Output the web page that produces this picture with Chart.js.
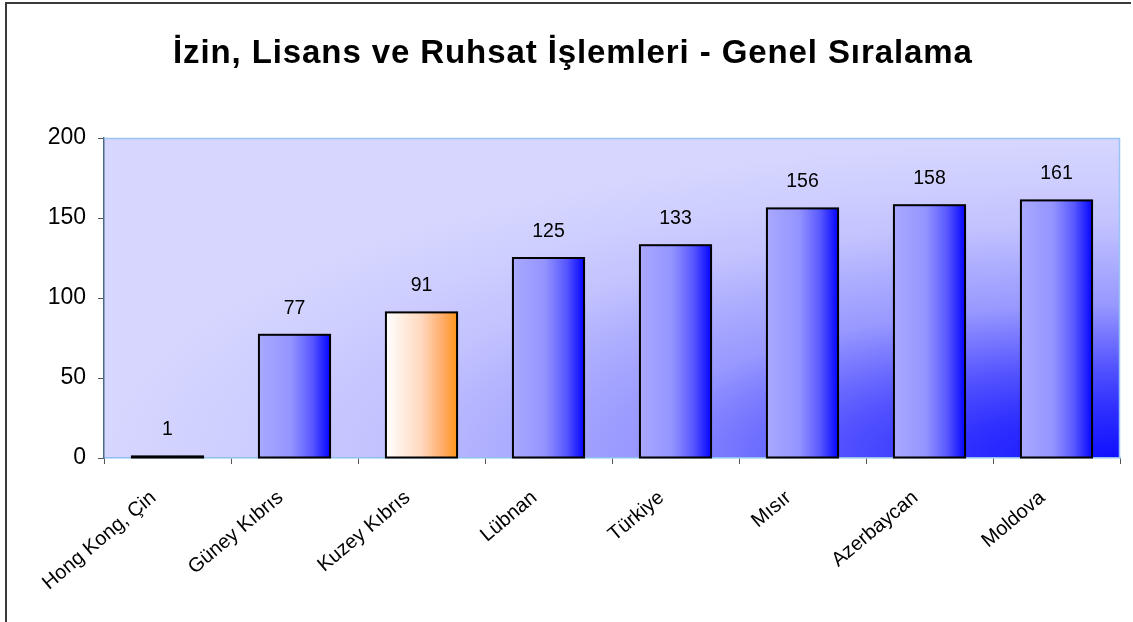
<!DOCTYPE html>
<html>
<head>
<meta charset="utf-8">
<script src="https://cdn.jsdelivr.net/npm/chart.js@4.4.0/dist/chart.umd.min.js"></script>
<style>
    html, body { margin: 0; padding: 0; background: #fff; }
    #wrap { width: 1133px; height: 622px; }
</style>
</head>
<body>
<div id="wrap"><canvas id="chart" width="1133" height="622"></canvas></div>
<script>
(function () {

    "use strict";

    // Datos
    var categories = ['Hong Kong, Çin', 'Güney Kıbrıs', 'Kuzey Kıbrıs', 'Lübnan', 'Türkiye', 'Mısır', 'Azerbaycan', 'Moldova'];
    var values = [1, 77, 91, 125, 133, 156, 158, 161];
    var yTicks = [0, 50, 100, 150, 200];
    var highlighted = ['Kuzey Kıbrıs'];
    var titleText = 'İzin, Lisans ve Ruhsat İşlemleri - Genel Sıralama';

    var FONT = "'Liberation Sans', Arial, sans-serif";
    var BAR_PCT = 0.56;

    /**
     * Gradiente horizontal para cada barra segun su posicion en la escala x
     */
    function barGradient(context) {
        var chart = context.chart;
        var area = chart.chartArea;
        if (!area || !chart.scales.x) {
            return '#9090ff';
        }
        var x = chart.scales.x;
        var center = x.getPixelForValue(context.dataIndex);
        var w = (x.width / categories.length) * BAR_PCT;
        var g = chart.ctx.createLinearGradient(center - w / 2, 0, center + w / 2, 0);
        if (highlighted.indexOf(categories[context.dataIndex]) !== -1) {
            g.addColorStop(0, '#ffffff');
            g.addColorStop(0.5, '#ffd8bd');
            g.addColorStop(0.8, '#ffac68');
            g.addColorStop(1, '#ff951a');
        } else {
            g.addColorStop(0, '#a9a9ff');
            g.addColorStop(0.45, '#9494ff');
            g.addColorStop(0.75, '#5858ff');
            g.addColorStop(1, '#0505ff');
        }
        return g;
    }

    // Fondo, marco y titulo
    var decorations = {
        id: 'decorations',
        beforeDraw: function (chart) {
            var ctx = chart.ctx;
            var a = chart.chartArea;
            ctx.save();
            // marco exterior
            ctx.strokeStyle = '#3a3a3a';
            ctx.lineWidth = 2;
            ctx.beginPath();
            ctx.moveTo(6, 622);
            ctx.lineTo(6, 3);
            ctx.lineTo(1131, 3);
            ctx.stroke();

            // fondo del area de trazado: degradado desde la esquina inferior derecha
            var rx = a.right - a.left;
            var ry = a.bottom - a.top;
            ctx.beginPath();
            ctx.rect(a.left, a.top, rx, ry);
            ctx.clip();
            ctx.translate(a.right, a.bottom);
            ctx.scale(1, ry / rx);
            var g = ctx.createRadialGradient(0, 0, 0, 0, 0, rx);
            g.addColorStop(0, '#0f0fff');
            g.addColorStop(0.16, '#3030ff');
            g.addColorStop(0.28, '#5252ff');
            g.addColorStop(0.40, '#7c7cff');
            g.addColorStop(0.48, '#9898ff');
            g.addColorStop(0.64, '#b2b2ff');
            g.addColorStop(0.73, '#c2c2ff');
            g.addColorStop(0.88, '#cfcfff');
            g.addColorStop(1, '#d6d6ff');
            ctx.fillStyle = g;
            ctx.fillRect(-rx, -rx, rx, rx);
            ctx.restore();

            // titulo
            ctx.save();
            ctx.fillStyle = '#000';
            ctx.font = 'bold 33px ' + FONT;
            ctx.letterSpacing = '0.9px';
            ctx.textAlign = 'left';
            ctx.textBaseline = 'alphabetic';
            ctx.fillText(titleText, 173, 63);
            ctx.restore();
        },
        afterDatasetsDraw: function (chart) {
            var ctx = chart.ctx;
            var a = chart.chartArea;
            var bars = chart.getDatasetMeta(0).data;
            ctx.save();
            // contorno negro de cada barra (tambien visible en barras muy bajas)
            ctx.strokeStyle = '#000';
            ctx.lineWidth = 2;
            bars.forEach(function (bar) {
                var h = Math.max(bar.base - bar.y, 1);
                ctx.strokeRect(bar.x - bar.width / 2, bar.base - h, bar.width, h);
            });

            ctx.strokeStyle = '#99c4f4';
            ctx.lineWidth = 1.5;
            ctx.beginPath();
            ctx.moveTo(a.left, a.top + 0.5);
            ctx.lineTo(a.right - 0.5, a.top + 0.5);
            ctx.lineTo(a.right - 0.5, a.bottom);
            ctx.stroke();

            // etiquetas de valores sobre cada barra
            ctx.fillStyle = '#000';
            ctx.font = '19.5px ' + FONT;
            ctx.textAlign = 'center';
            ctx.textBaseline = 'alphabetic';
            bars.forEach(function (bar, i) {
                ctx.fillText(String(values[i]), bar.x, bar.y - 21);
            });
            ctx.restore();
        }
    };

    new Chart(document.getElementById('chart').getContext('2d'), {
        type: 'bar',
        data: {
            labels: categories,
            datasets: [{
                data: values,
                backgroundColor: barGradient,
                borderWidth: 0,
                barPercentage: BAR_PCT,
                categoryPercentage: 1
            }]
        },
        options: {
            responsive: false,
            animation: false,
            devicePixelRatio: 1,
            layout: { padding: { top: 138, right: 13, bottom: 0, left: 0 } },
            plugins: {
                legend: { display: false },
                title: { display: false },
                tooltip: { enabled: false }
            },
            scales: {
                x: {
                    grid: { drawOnChartArea: false, tickLength: 6, color: '#555' },
                    border: { color: '#8fbfee', width: 1.5 },
                    ticks: {
                        color: '#000',
                        font: { family: FONT, size: 20 },
                        maxRotation: 40,
                        minRotation: 40,
                        autoSkip: false,
                        padding: 22,
                        labelOffset: -14
                    },
                    afterFit: function (s) { s.height = 164; }
                },
                y: {
                    min: 0,
                    max: yTicks[yTicks.length - 1],
                    afterBuildTicks: function (s) {
                        s.ticks = yTicks.map(function (v) { return { value: v }; });
                    },
                    grid: { drawOnChartArea: false, tickLength: 6, color: '#555' },
                    border: { color: '#4d6a8c', width: 1.5 },
                    ticks: {
                        color: '#000',
                        font: { family: FONT, size: 23 },
                        padding: 12
                    },
                    afterFit: function (s) { s.width = 104; }
                }
            }
        },
        plugins: [decorations]
    });

})();
</script>
</body>
</html>
